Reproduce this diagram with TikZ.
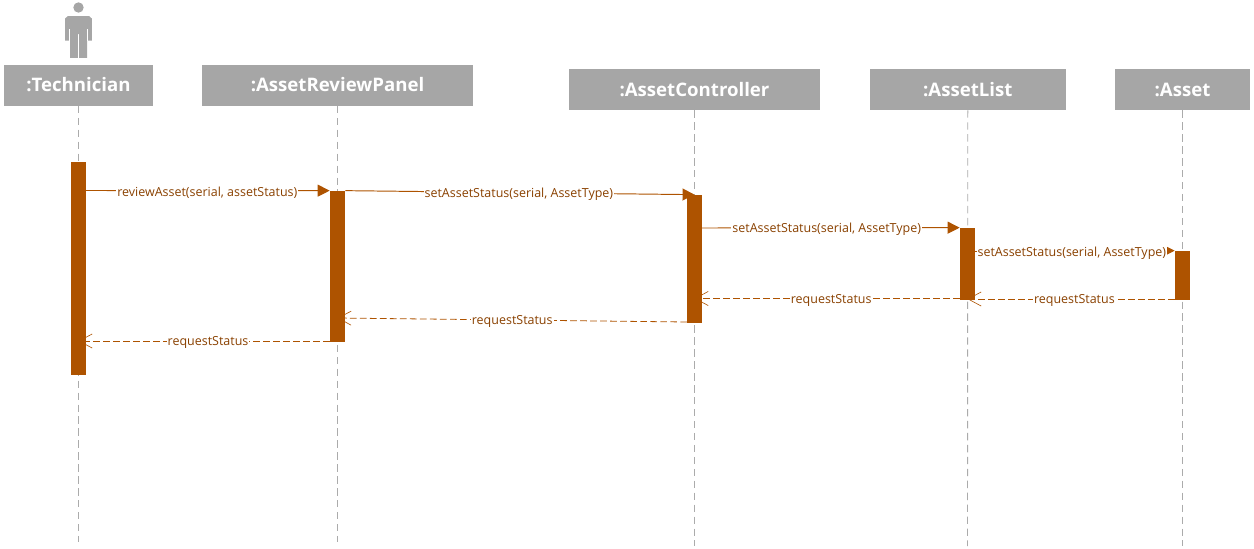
\documentclass[tikz,border=0pt]{standalone}
\usepackage{fontspec}
\setmainfont{Open Sans}
\usetikzlibrary{arrows.meta, positioning, calc}
\definecolor{headgray}{HTML}{A6A6A6}
\definecolor{linegray}{HTML}{ABABAB}
\definecolor{barbrown}{HTML}{AE5300}
\definecolor{txtbrown}{HTML}{8A4100}

\begin{document}
\begin{tikzpicture}[x=0.02cm, y=-0.02cm, line cap=butt, line join=round,
    head/.style={fill=headgray, text=white, font=\fontsize{10.6pt}{12pt}\selectfont\bfseries,
      inner sep=0pt, minimum height=#1*0.02cm},
    head/.default=41,
    lifeline/.style={draw=linegray, line width=0.5pt, dash pattern=on 4.2pt off 2.6pt},
    bar/.style={fill=barbrown, inner sep=0pt, minimum width=0.3cm},
    call/.style={draw=barbrown, line width=0.55pt, -{Triangle[length=6.8pt, width=6.8pt, fill=barbrown]}},
    smallcall/.style={draw=barbrown, line width=0.55pt, -{Triangle[length=5pt, width=5pt, fill=barbrown]}},
    back/.style={draw=barbrown, line width=0.45pt, dash pattern=on 3.8pt off 1.9pt,
      -{Straight Barb[length=7.4pt, width=8pt, line width=0.35pt]}},
    msg/.style={fill=white, text=txtbrown, inner sep=0.6pt, yshift=-1pt, font=\fontsize{7.1pt}{8pt}\selectfont}]
  \useasboundingbox (0,0) rectangle (1254,548);
  % actor
  \fill[headgray] (78.5,7.5) circle (5.2);
  \fill[headgray] (68,16) -- (89,16) -- (91.8,18.5) -- (91.8,40.5) -- (87,40.5) -- (87,57.8)
     -- (79.2,57.8) -- (79.2,34) -- (77.8,34) -- (77.8,57.8) -- (70,57.8) -- (70,40.5)
     -- (65,40.5) -- (65,18.5) -- cycle;
  \draw[white, line width=0.3pt] (69.5,29) -- (69.5,40.5) (87.5,29) -- (87.5,40.5);
  % heads
  \node[head, minimum width=2.98cm] (technician) at (78.5,85) {:Technician};
  \node[head, minimum width=5.42cm] (panel) at (337.5,85) {:AssetReviewPanel};
  \node[head, minimum width=5.04cm] (controller) at (694.5,89.5) {:AssetController};
  \node[head, minimum width=3.92cm] (assetlist) at (967.8,89.5) {:AssetList};
  \node[head, minimum width=2.7cm] (asset) at (1182.5,89.5) {:Asset};
  % lifeline ends
  \coordinate (technicianEnd) at (78.5,542);
  \coordinate (panelEnd) at (337.5,542);
  \coordinate (controllerEnd) at (694.5,546);
  \coordinate (assetlistEnd) at (967.5,546);
  \coordinate (assetEnd) at (1182.5,546);
  \draw[lifeline] (technician.south) -- (technicianEnd);
  \draw[lifeline] (panel.south) -- (panelEnd);
  \draw[lifeline] (controller.south) -- (controllerEnd);
  \draw[lifeline] (assetlist.south) -- (assetlistEnd);
  \draw[lifeline] (asset.south) -- (assetEnd);
  % activation bars
  \node[bar, minimum height=213*0.02cm] (barTechnician) at (78.5,268.5) {};
  \node[bar, minimum height=151*0.02cm] (barPanel) at (337.5,266.5) {};
  \node[bar, minimum height=128*0.02cm] (barController) at (694.5,259) {};
  \node[bar, minimum height=72*0.02cm] (barList) at (967.5,264) {};
  \node[bar, minimum height=49*0.02cm] (barAsset) at (1182.5,275.5) {};
  % free message ends
  \coordinate (reviewStart) at (86,190.5);
  \coordinate (setListStart) at (702,228);
  \coordinate (setAssetStart) at (975,251.5);
  \coordinate (assetBack) at (1175,299);
  \coordinate (listBack) at (960,298.5);
  \coordinate (controllerBack) at (687,322);
  \coordinate (panelBack) at (330,341);
  \coordinate (backList) at (967.5,299);
  \coordinate (backController) at (694.5,298.5);
  \coordinate (backPanel) at (337.5,318);
  \coordinate (backTechnician) at (78.5,341);
  % calls
  \draw[call] (reviewStart) -- node[msg, pos=0.498] {reviewAsset(serial, assetStatus)} (barPanel.north west);
  \draw[call] (barPanel.north east) -- node[msg, pos=0.497] {setAssetStatus(serial, AssetType)} (barController.north);
  \draw[call] (setListStart) -- node[msg, pos=0.484] {setAssetStatus(serial, AssetType)} (barList.north west);
  \draw[smallcall] (setAssetStart) -- node[msg, pos=0.485] {setAssetStatus(serial, AssetType)} (barAsset.north west);
  % returns
  \draw[back] (assetBack) -- node[msg, pos=0.485] {requestStatus} (backList);
  \draw[back] (listBack) -- node[msg, pos=0.485] {requestStatus} (backController);
  \draw[back] (controllerBack) -- node[msg, pos=0.5] {requestStatus} (backPanel);
  \draw[back] (panelBack) -- node[msg, pos=0.485] {requestStatus} (backTechnician);
\end{tikzpicture}
\end{document}
